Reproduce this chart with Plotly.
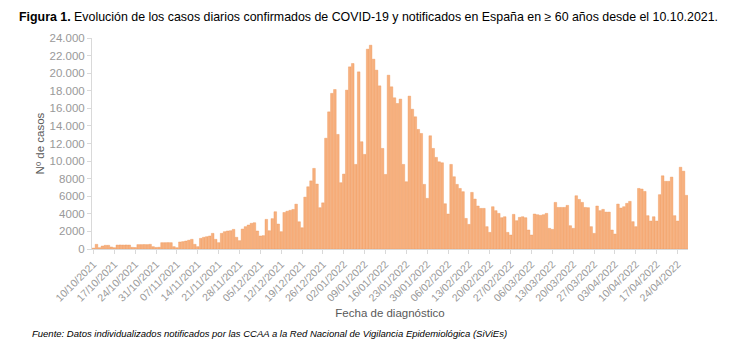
import pandas as pd
import plotly.graph_objects as go

start_date = "2021-10-10"

oct_vals = [100, 530, 150, 340, 420, 420, 230, 150, 450, 460, 450, 460, 450, 190, 170,
            500, 500, 510, 500, 530, 265, 180]
nov_vals = [200, 720, 720, 730, 720, 265, 150, 800, 840, 910, 1000, 1100, 530, 265,
            1210, 1330, 1400, 1480, 1780, 1100, 720, 1780, 1970, 2050, 2080, 2230, 1330,
            950, 2270, 2540]
dec_vals = [2730, 2920, 2990, 2050, 1480, 1520, 3370, 2080, 3450, 4240, 2840, 1970, 4150,
            4300, 4400, 4500, 5100, 3100, 2420, 5900, 7080, 7750, 9170, 7390, 4700, 5250,
            12600, 15600, 17700, 18140, 13030]
jan_vals = [7540, 8520, 18070, 20720, 21100, 9620, 20150, 12200, 10760, 22730, 23180,
            21590, 20340, 18560, 11440, 8480, 19770, 18450, 17200, 16550, 17050, 9620,
            7650, 17390, 15900, 15040, 13600, 13140, 7350, 5760, 12880]
feb_vals = [11440, 10420, 9920, 9810, 5150, 3980, 9620, 8220, 7350, 6890, 6520, 3480,
            2800, 6440, 5680, 4890, 4620, 4620, 2540, 1890, 4810, 4360, 4050, 3560, 3670,
            1890, 1590, 3940]
mar_vals = [3220, 3600, 3670, 3560, 2160, 1590, 3980, 3900, 3830, 3900, 4050, 2350, 2230,
            5300, 4730, 4730, 4730, 4960, 2650, 2350, 6060, 5640, 5300, 4730, 4700, 2540,
            1780, 4890, 4360, 4510, 4200]
apr_vals = [4200, 2160, 1700, 5110, 4660, 4810, 5190, 5420, 3110, 2540, 6890, 6820, 6550,
            3790, 3180, 3670, 3180, 6180, 8330, 7700, 7700, 8180, 3790, 3180, 9300, 8850,
            6100]

y_tick_vals = [0, 2000, 4000, 6000, 8000, 10000, 12000, 14000, 16000, 18000, 20000, 22000, 24000]
y_tick_text = ["0", "2000", "4000", "6000", "8000", "10.000", "12.000", "14.000", "16.000",
               "18.000", "20.000", "22.000", "24.000"]

values = oct_vals + nov_vals + dec_vals + jan_vals + feb_vals + mar_vals + apr_vals
dates = pd.date_range(start_date, periods=len(values), freq="D")
x_ticks = pd.date_range(start_date, dates[-1], freq="7D")
x_tick_text = [d.strftime("%d/%m/%Y") for d in x_ticks]

FONT = "Liberation Sans, Arial, sans-serif"
GRAY = "#999999"

fig = go.Figure(go.Bar(
    x=dates, y=values,
    marker=dict(color="#F7B07E", line=dict(color="#EE9455", width=0.4)),
))

half_day = pd.Timedelta(hours=12)
fig.update_layout(
    width=738, height=351,
    margin=dict(l=92, r=50, t=38, b=102),
    plot_bgcolor="white", paper_bgcolor="white",
    bargap=0.12,
    showlegend=False,
    font=dict(family=FONT, color=GRAY, size=11),
    xaxis=dict(
        range=[dates[0] - half_day, dates[-1] + half_day],
        tickvals=x_ticks, ticktext=x_tick_text, tickangle=-45,
        tickfont=dict(size=10.5, color=GRAY),
        showline=True, linecolor="#d9d9d9", linewidth=1,
        ticks="outside", ticklen=4, tickcolor="#d9d9d9",
        showgrid=False, zeroline=False,
        title=dict(text="Fecha de diagnóstico", font=dict(size=11.5, color="#595959"), standoff=6),
    ),
    yaxis=dict(
        range=[0, 24000],
        tickvals=y_tick_vals, ticktext=y_tick_text,
        tickfont=dict(size=11.5, color=GRAY),
        showline=True, linecolor="#d9d9d9", linewidth=1,
        ticks="outside", ticklen=4, tickcolor="#d9d9d9",
        showgrid=False, zeroline=False,
        title=dict(text="Nº de casos", font=dict(size=11.5, color="#595959"), standoff=2),
    ),
    annotations=[
        dict(text="<b>Figura 1.</b> Evolución de los casos diarios confirmados de COVID-19 y notificados en España en ≥ 60 años desde el 10.10.2021.",
             xref="paper", yref="paper", x=-92/596, xanchor="left", xshift=17,
             y=1, yshift=21, yanchor="middle", showarrow=False,
             font=dict(size=12.4, color="#000000", family=FONT)),
        dict(text="<i>Fuente: Datos individualizados notificados por las CCAA a la Red Nacional de Vigilancia Epidemiológica (SiViEs)</i>",
             xref="paper", yref="paper", x=-92/596, xanchor="left", xshift=30,
             y=0, yshift=-84, yanchor="middle", showarrow=False,
             font=dict(size=9.5, color="#000000", family=FONT)),
    ],
)

fig.write_html("out.html")
